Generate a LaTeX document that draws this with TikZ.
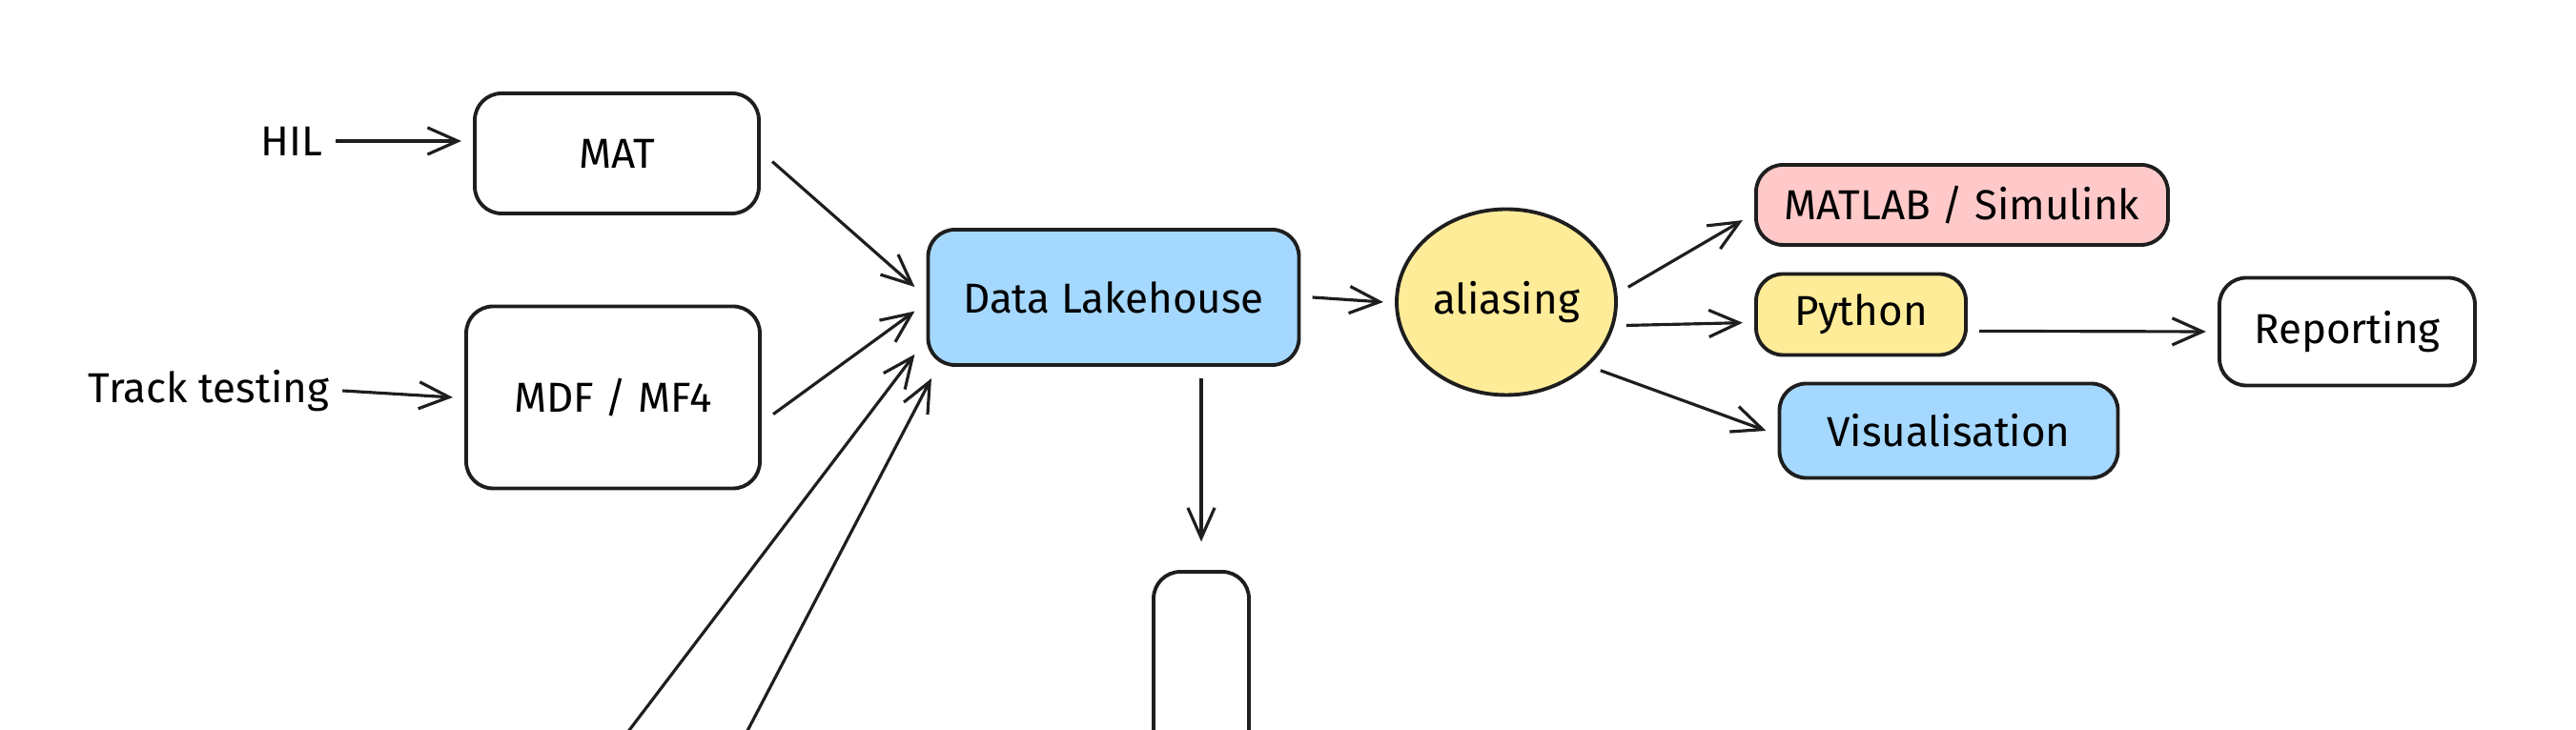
\documentclass[tikz,border=0pt]{standalone}
\usepackage{fontspec}
\setmainfont{Fira Sans}
\usetikzlibrary{arrows.meta, shapes.geometric}

\definecolor{lakeblue}{HTML}{A5D8FF}
\definecolor{aliasyellow}{HTML}{FFEC99}
\definecolor{matlabpink}{HTML}{FFC9C9}
\definecolor{inkline}{HTML}{1E1E1E}

\begin{document}
\begin{tikzpicture}[
  box/.style={draw=inkline, line width=1.1pt, rounded corners=8pt, inner sep=0pt, outer sep=4pt, font=\fontsize{12.5}{15}\selectfont},
  label/.style={inner sep=0pt, outer sep=4pt, font=\fontsize{12.5}{15}\selectfont},
  arr/.style={draw=inkline, line width=0.9pt, -{Straight Barb[length=9pt,width=8pt]}}]
\clip (0.000000,0.000000) rectangle (27.020000,7.660000);
\node (hil) at (3.060000,6.180000) [label] {HIL};
\node (track) at (2.190000,3.560000) [label] {Track testing};
\node (mat) at (6.470000,6.050000) [box, minimum width=2.98cm, minimum height=1.26cm] {MAT};
\node (mdf) at (6.430000,3.490000) [box, minimum width=3.08cm, minimum height=1.91cm] {MDF / MF4};
\node (lake) at (11.680000,4.540000) [box, fill=lakeblue, minimum width=3.89cm, minimum height=1.42cm] {Data Lakehouse};
\node (alias) at (15.800000,4.490000) [box, ellipse, rounded corners=0pt, fill=aliasyellow, minimum width=2.30cm, minimum height=1.95cm] {aliasing};
\node (matlab) at (20.580000,5.510000) [box, fill=matlabpink, minimum width=4.32cm, minimum height=0.84cm] {MATLAB / Simulink};
\node (python) at (19.520000,4.360000) [box, fill=aliasyellow, minimum width=2.20cm, minimum height=0.85cm] {Python};
\node (report) at (24.620000,4.180000) [box, minimum width=2.68cm, minimum height=1.13cm] {Reporting};
\node (vis) at (20.440000,3.140000) [box, fill=lakeblue, minimum width=3.55cm, minimum height=0.99cm] {Visualisation};
\node (store) at (12.600000,0.560000) [box, minimum width=1.00cm, minimum height=2.20cm] {};
\coordinate (src1) at (6.450000,-0.200000);
\coordinate (src2) at (7.740000,-0.200000);
\draw [arr] (hil.east) -- (mat.west |- hil.east);
\draw [arr] (track.east) -- (mdf.west);
\draw [arr] (mat.-3.5) -- (lake.177);
\draw [arr] (mdf.-6.7) -- (lake.-176.5);
\draw [arr] (src1) -- (lake.196.5);
\draw [arr] (src2) -- (lake.204);
\draw [arr, shorten >=5pt] (lake.south -| store.north) -- (store.north);
\draw [arr] (lake.east) -- (alias.west);
\draw [arr] (alias.7) -- (matlab.-176);
\draw [arr] (alias.-11.7) -- (python.-176);
\draw [arr] (alias.-36) -- (vis.west);
\draw [arr] (python.-8) -- (report.west);
\end{tikzpicture}
\end{document}
